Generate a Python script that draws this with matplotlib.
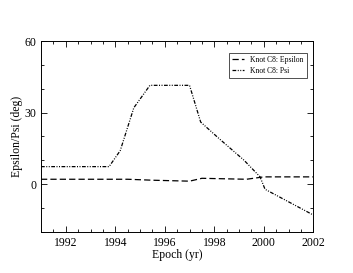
import matplotlib
matplotlib.use("Agg")
import matplotlib.pyplot as plt
from matplotlib.ticker import MultipleLocator

plt.rcParams['font.family'] = ['Liberation Serif', 'DejaVu Serif']

eps_x = [1991.0, 1994.5, 1995.5, 1997.0, 1997.5, 1999.3, 2000.0, 2002.0]
eps_y = [2.0, 2.0, 1.6, 1.2, 2.4, 2.0, 3.0, 3.0]

psi_x = [1991.0, 1993.75, 1994.2, 1994.75, 1995.4, 1997.0, 1997.45, 1998.2, 1999.2, 1999.85, 2000.05, 2002.0]
psi_y = [7.3, 7.3, 14.0, 32.0, 41.4, 41.4, 26.0, 19.0, 10.0, 3.0, -2.2, -13.0]

fig = plt.figure(figsize=(3.53, 2.73), dpi=100)
ax = fig.add_axes([41/353, 1-231.7/273, (313.3-41)/353, (231.7-41)/273])

ax.plot(eps_x, eps_y, color='black', lw=0.9, dashes=(5, 2.5), label='Knot C8: Epsilon')
ax.plot(psi_x, psi_y, color='black', lw=0.9, dashes=(3, 1.2, 0.8, 1.2, 0.8, 1.2), label='Knot C8: Psi')

ax.set_xlim(1991, 2002)
ax.set_ylim(-20, 60)
ax.xaxis.set_major_locator(MultipleLocator(2))
ax.xaxis.set_minor_locator(MultipleLocator(0.5))
ax.yaxis.set_major_locator(MultipleLocator(30))
ax.yaxis.set_minor_locator(MultipleLocator(10))
ax.tick_params(which='both', direction='in', top=True, right=True, labelsize=8.5, width=0.6)
ax.tick_params(which='major', length=4)
ax.tick_params(which='minor', length=2)
for s in ax.spines.values():
    s.set_linewidth(0.7)

ax.set_xlabel('Epoch (yr)', fontsize=8.5, labelpad=0)
ax.set_ylabel('Epsilon/Psi (deg)', fontsize=8.5, labelpad=1)

leg = ax.legend(loc='upper right', fontsize=5.5, frameon=True, fancybox=False,
                edgecolor='black', handlelength=1.5, handletextpad=0.9,
                borderpad=0.45, labelspacing=0.35, borderaxespad=0,
                bbox_to_anchor=(0.978, 0.939))
leg.get_frame().set_linewidth(0.6)

fig.savefig('out.png', dpi=100)
